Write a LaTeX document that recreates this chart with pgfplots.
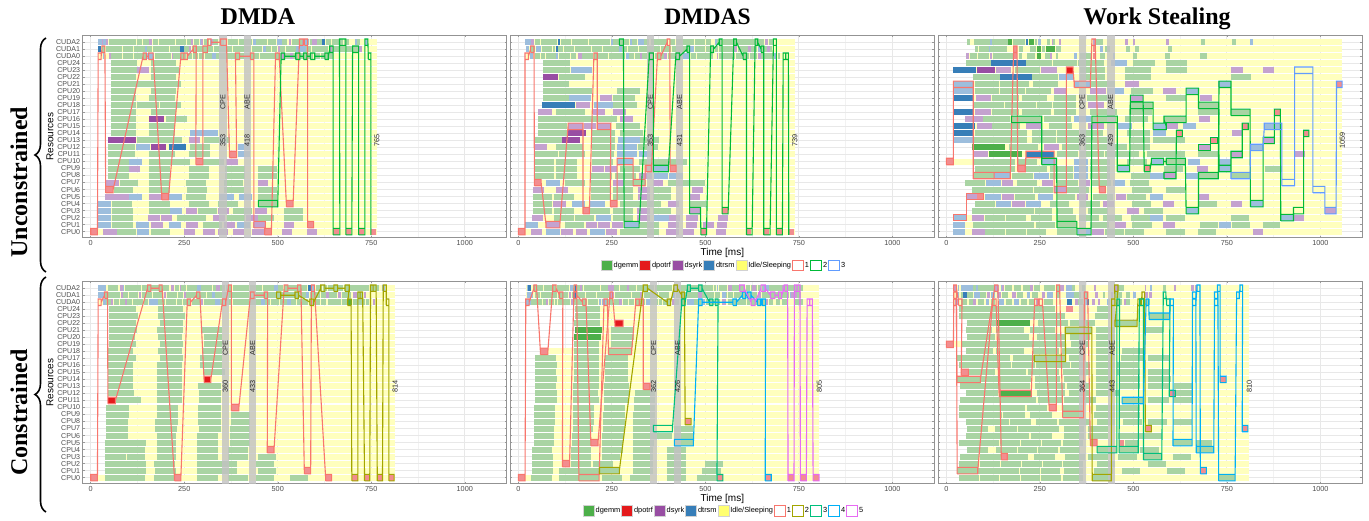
\documentclass[border=0pt]{standalone}
\usepackage{pgfplots}
\pgfplotsset{compat=1.18}
\usepackage{fontspec}
\setmainfont{Liberation Sans}
\newfontfamily\ttl{Liberation Serif}
\usetikzlibrary{decorations.pathreplacing}
\definecolor{cy}{HTML}{FFFFBE}
\definecolor{cg}{HTML}{A9D4A3}
\definecolor{cp}{HTML}{C4A2CF}
\definecolor{cb}{HTML}{9DBEDD}
\definecolor{cr}{HTML}{F28D8F}
\definecolor{cG}{HTML}{4DAF4A}
\definecolor{cP}{HTML}{984EA3}
\definecolor{cB}{HTML}{377EB8}
\definecolor{cR}{HTML}{E41A1C}
\definecolor{keyY}{HTML}{FFFF70}
\definecolor{one}{HTML}{F8766D}
\definecolor{twoA}{HTML}{00BA38}
\definecolor{thrA}{HTML}{619CFF}
\definecolor{twoB}{HTML}{A3A500}
\definecolor{thrB}{HTML}{00BF7D}
\definecolor{fouB}{HTML}{00B0F6}
\definecolor{fivB}{HTML}{E76BF3}
\makeatletter
\def\resetacc{\gdef\accy{}\gdef\accg{}\gdef\accb{}\gdef\accp{}\gdef\accr{}\gdef\accG{}\gdef\accB{}\gdef\accP{}\gdef\accR{}}
\resetacc
\def\pR#1#2/#3\relax{\expandafter\xdef\csname acc#1\endcsname{\csname acc#1\endcsname(#2,\rw)(#3,\rw)(nan,nan)}}
\newcommand\R[2]{\def\rw{#1}\foreach \t in {#2}{\expandafter\pR\t\relax}}
\newcommand\flush[1]{\expandafter\ifx\csname acc#1\endcsname\empty\let\tmp\relax\else
 \edef\tmp{\noexpand\addplot[forget plot,color=c#1,line width=6pt,line cap=butt] coordinates {\csname acc#1\endcsname};}\fi\tmp}
\newcommand\flushall{\flush{y}\flush{g}\flush{b}\flush{p}\flush{r}\flush{G}\flush{B}\flush{P}\flush{R}\resetacc}
\newcommand\pth[2]{\gdef\accq{}\gdef\accl{}\gdef\prv{}\foreach \a/\b/\c in {#2}{\pgfmathsetmacro\lo{\c-0.46}\pgfmathsetmacro\hi{\c+0.46}\xdef\accq{\accq(\a,\lo)(\b,\lo)(\b,\hi)(\a,\hi)(\a,\lo)(nan,nan)}\ifx\prv\empty\else\xdef\accl{\accl\prv(\a,\c)(nan,nan)}\fi\xdef\prv{(\b,\c)}}\edef\tmp{\noexpand\addplot[forget plot,color=#1,line width=1.1pt,line join=miter] coordinates {\accq\accl};}\tmp}
\newcommand\band[2]{\addplot[forget plot,draw=none,fill=gray!48,fill opacity=.82] coordinates {(#1,-0.9)(#2,-0.9)(#2,28)(#1,28)};}
\newcommand\lbl[3]{\node[rotate=90,font=\fontsize{7.3}{8}\selectfont,text=black!85] at (axis cs:#1,#2) {#3};}
\newcommand\lk[3]{\addlegendimage{legend image code/.code={\draw[draw=gray!35,line width=.7pt,fill=#1] (0pt,-5.2pt) rectangle (11pt,5.2pt);}}\addlegendentry{#3}}
\newcommand\lop[2]{\addlegendimage{legend image code/.code={\draw[draw=#1,line width=.9pt,fill=white] (0pt,-5.2pt) rectangle (11pt,5.2pt);}}\addlegendentry{#2}}
\makeatother
\pgfplotsset{unbounded coords=jump,
 gantt/.style={anchor=south west,width=424pt,height=202.8pt,scale only axis,
  xmin=-21.4,xmax=1112,ymin=-0.9,ymax=28,
  xtick={0,250,500,750,1000},minor xtick={125,375,625,875},
  ytick={0,...,27},clip=true,
  grid=both,major grid style={gray!18,line width=.9pt},minor grid style={gray!10,line width=.5pt},
  axis line style={gray!85,line width=1pt},
  major tick length=2pt,minor tick length=0pt,tick style={gray!80,line width=.5pt},
  xticklabel style={font=\fontsize{7.3}{8}\selectfont,text=black!70,yshift=1pt},
  /pgf/number format/assume math mode=true,/pgf/number format/set thousands separator={},
  yticklabels={},legend style={font=\fontsize{7.4}{8}\selectfont}},
 lefty/.style={yticklabels={CPU0,CPU1,CPU2,CPU3,CPU4,CPU5,CPU6,CPU7,CPU8,CPU9,CPU10,CPU11,CPU12,CPU13,CPU14,CPU15,CPU16,CPU17,CPU18,CPU19,CPU20,CPU21,CPU22,CPU23,CPU24,CUDA0,CUDA1,CUDA2},
  yticklabel style={font=\fontsize{7.1}{7}\selectfont,text=black!70,xshift=1pt},
  ylabel={Resources},ylabel style={font=\fontsize{7.6}{8}\selectfont},
  every axis y label/.style={at={(axis description cs:-0.077,0.5)},rotate=90,anchor=center}},
 midx/.style={xlabel={Time [ms]},xlabel style={font=\fontsize{8.2}{9}\selectfont},
  every axis x label/.style={at={(axis description cs:0.5,-0.0745)},anchor=center}},
 leg/.style={legend columns=-1,legend cell align=left,
  legend style={at={(axis description cs:#1)},anchor=center,draw=none,fill=none,inner sep=0pt,outer sep=0pt,
  nodes={inner xsep=1pt,inner ysep=1pt},
  /tikz/every even column/.append style={column sep=0pt}}}}
\begin{document}
\begin{tikzpicture}[x=1pt,y=1pt]
\path[use as bounding box] (0,0) rectangle (1369,521);
\node[anchor=base,font=\ttl\bfseries\fontsize{24}{24}\selectfont] at (258,496) {DMDA};
\node[anchor=base,font=\ttl\bfseries\fontsize{23.5}{24}\selectfont] at (707.5,496) {DMDAS};
\node[anchor=base,font=\ttl\bfseries\fontsize{24}{24}\selectfont] at (1157,496) {Work Stealing};
\node[rotate=90,anchor=base,font=\ttl\bfseries\fontsize{24}{24}\selectfont] at (27,339) {Unconstrained};
\node[rotate=90,anchor=base,font=\ttl\bfseries\fontsize{24}{24}\selectfont] at (27,108.5) {Constrained};
\draw[line width=1.6pt,decorate,decoration={brace,amplitude=11pt}] (46,249) -- (46,483);
\draw[line width=1.6pt,decorate,decoration={brace,amplitude=11pt}] (46,9) -- (46,244);
%% ---------- DMDA unconstrained
\begin{axis}[gantt,lefty,at={(82.7pt,283pt)}]
\R{27}{y20/765,b20/30,p30/33,b33/41,p41/45,g48/62,g63/77,g78/92,g93/107,g108/122,g123/138,g139/155,p155/165,g167/181,g182/196,g197/211,g212/226,g227/241,g242/256,g257/267,p267/274,g276/290,b291/296,p296/301,g303/317,b318/322,p322/326,g327/340,g342/356,g366/380,g381/395,g396/410,g411/432,b433/442,g443/457,g458/472,g473/495,b497/511,g512/526,p530/536,g539/553,g554/566,b566/584,g585/592,p592/605,g606/617,B619/627,g629/643,g644/658,g659/675,g676/691,b706/712,g713/721,b733/741}
\R{26}{y20/765,B20/28,g29/39,g40/54,g55/69,g70/84,g85/99,g100/114,g115/129,g130/144,b145/150,g151/165,g166/180,g181/195,g196/210,g211/225,g226/239,B240/249,g250/262,p262/268,g270/284,g285/297,g298/313,g314/328,g329/343,g344/364,g365/379,g380/394,g395/409,g410/429,g430/444,g445/459,b460/468,g469/483,g484/498,p500/505,g506/520,g521/535,g536/550,b550/575,g576/590,g591/605,g606/620,g621/635,p636/645,g646/660,g661/681,g682/696,g697/715,p716/724}
\R{25}{y20/765,b32/36,p48/53,g55/69,g70/84,g85/99,g100/114,g115/129,g130/148,b150/170,g171/185,g186/200,g201/215,p216/220,g221/235,g236/256,g258/272,g273/288,g290/304,g305/323,b325/335,g336/350,g351/375,g376/399,g400/414,g415/426,g427/436,g437/451,g452/466,g467/481,g482/508,p510/516,g519/533,p533/540,g541/555,g556/580,g581/595,g600/614,g615/634,g636/648}
\R{24}{y55/765,g55/123,g160/227}
\R{23}{y55/765,g55/124,p125/157,g160/235}
\R{22}{y55/765,g55/122,g160/227}
\R{21}{y55/765,g55/124,g125/182,g183/241}
\R{20}{y55/765,g55/122,g160/227}
\R{19}{y55/765,g55/121,g157/225}
\R{18}{y55/765,g55/122,g124/182,g184/241}
\R{17}{y55/765,g55/122,g162/228}
\R{16}{y55/765,g55/122,P157/197,g200/258}
\R{15}{y55/765,g55/122,g157/224}
\R{14}{y55/765,g55/122,g157/224,b266/341}
\R{13}{y45/765,P45/122,g124/245,p264/293,g304/373}
\R{12}{y45/765,g45/119,b121/159,P160/200,B208/256,g266/318,b395/427}
\R{11}{y45/765,g45/119,g157/224,g264/320,r371/390,b395/427}
\R{10}{y45/765,g45/102,b103/138,g157/265,r281/300,g301/355,p361/393}
\R{9}{y45/765,g45/102,p102/133,g157/211,g264/317,g360/413,g446/497}
\R{8}{y45/765,g45/102,g157/211,g264/317,g360/413,g446/497}
\R{7}{y40/765,p40/75,g77/127,g157/211,g256/307,g355/406,p446/475}
\R{6}{y40/765,r40/60,g61/114,g157/211,g258/310,g355/409,g446/497}
\R{5}{y37/765,p37/102,b103/138,p157/189,r190/208,b210/245,g256/307,b344/382,b397/432,g448/497}
\R{4}{y20/765,b20/55,g56/110,g157/211,g264/317,g341/393,g448/500,r523/541}
\R{3}{y20/765,b20/55,g56/112,g157/211,b213/245,p256/285,g287/338,p341/371,g381/432,p440/470,g518/567}
\R{2}{y20/765,b20/55,g56/112,p154/186,p189/218,g231/307,p328/360,g363/413,p416/446,g448/491,g518/567}
\R{1}{y20/765,b20/55,g56/112,b122/157,p160/192,b208/242,p256/288,g301/352,p355/387,b392/427,p435/467,p518/544,r580/596}
\R{0}{y0/765,r0/18,p34/69,g70/122,b123/157,g160/213,p250/280,p301/331,p339/368,p381/411,p432/464,r465/483,p512/539,p579/606,r649/663,r683/697,r717/731,r749/763}
\flushall
\band{344}{363}\band{409}{428}
\pth{one}{0/18/0,20/28/25,30/38/26,40/60/6,140/149/25,155/167/25,190/208/5,241/249/25,249/258/25,274/282/26,281/300/10,300/312/26,313/322/27,347/363/27,371/390/11,387/398/25,427/436/25,436/467/1,465/483/0,494/504/25,523/541/4,558/568/27,571/580/27,580/596/1}
\pth{twoA}{448/500/4,509/518/25,548/559/25,569/578/25,587/599/25,626/635/25,639/648/26,648/666/0,665/682/27,682/698/0,700/716/26,716/733/0,733/741/27,742/749/25,749/749/0}
\lbl{353}{18.5}{CPE}\lbl{418}{18.5}{ABE}\lbl{353}{13}{353}\lbl{418}{13}{418}\lbl{765}{13}{765}
\end{axis}
%% ---------- DMDAS unconstrained
\begin{axis}[gantt,midx,leg={0.503,-0.136},at={(510.3pt,283pt)}]
\lk{cG}{}{dgemm}\lk{cR}{}{dpotrf}\lk{cP}{}{dsyrk}\lk{cB}{}{dtrsm}\lk{keyY}{}{Idle/Sleeping\hspace{7pt}}\lop{one}{1}\lop{twoA}{2}\lop{thrA}{3}
\R{27}{y18/739,b18/35,p35/43,g45/59,g60/74,g75/89,g90/103,B105/112,g113/127,g128/142,g143/157,g158/172,g173/187,g188/205,g206/220,g221/245,b247/252,g253/270,g271/282,g283/297,b298/303,g304/318,b320/335,g336/350,g355/370,g372/386,g387/398,g406/420,g421/440,g441/455,g456/470,g471/485,g486/500,g501/515,b525/530,g531/537,g538/545,g546/560,g561/575,g576/584,g585/598,g599/613,g614/625,g626/641,g642/656,p660/668,g669/680}
\R{26}{y20/739,b20/28,g33/45,b48/60,g62/76,g77/91,g92/99,B100/105,g106/120,g121/135,g136/150,g151/165,g166/180,g181/195,g196/210,g211/225,g226/240,g241/255,g256/270,b270/276,g277/291,g292/306,g307/321,g322/336,g337/351,g352/365,g366/380,g381/395,g396/409,g410/424,g425/439,g440/459,b460/470,g471/485,g486/500,g501/524,g525/535,g536/545,g546/560,g561/575,p577/585,g586/600,g601/615,p615/622,g623/637,b640/648,g649/655,g656/665,p665/672,g673/677}
\R{25}{y20/739,b30/40,g45/59,g60/72,g75/89,g90/100,b102/107,g110/124,g125/139,g140/154,p160/170,g171/185,g186/200,g201/211,g212/226,g227/241,g242/256,g257/271,g272/286,b288/295,g296/310,g311/325,p326/330,g331/345,g346/364,g365/372,g373/389,p390/398,g399/410,g411/431,g432/440,b440/460,g462/476,g477/491,g492/506,g507/521,p530/535,g536/550,g551/565,g566/580,g581/595,g596/617,g618/639,p640/648,g650/664,g665/682,b683/690,g695/700}
\R{24}{y66/739,g66/139}
\R{23}{y66/739,g66/139,b140/198}
\R{22}{y66/739,P66/107,g109/179}
\R{21}{y66/739,g66/135}
\R{20}{y66/739,g66/136,g136/198,g264/324}
\R{19}{y66/739,g66/135,b136/193,p218/250,g252/313}
\R{18}{y63/739,B63/152,p154/192,b202/252,g252/318}
\R{17}{y53/739,p53/91,g101/179,p200/232,p253/288}
\R{16}{y53/739,g53/264,p272/307}
\R{15}{y53/739,g53/130,p133/173,p176/208,p210/247,g261/326}
\R{14}{y53/739,g53/130,P133/182,g197/258,g272/334}
\R{13}{y44/739,g44/116,P117/165,g198/258,b266/324,g325/377}
\R{12}{y44/739,p44/78,g101/173,g197/258,b264/318,g320/374}
\R{11}{y44/739,g44/107,g108/177,g197/256,b264/318,b323/357}
\R{10}{y44/739,g44/96,g100/158,g197/253,b264/307,g323/452}
\R{9}{y44/739,g44/96,g100/158,p197/229,p232/264,g272/326,r339/356,b360/401,r406/422}
\R{8}{y44/739,g44/96,g100/158,g194/250,g258/315,p323/357,b363/401,b403/440}
\R{7}{y43/739,r43/61,b74/111,g125/178,g194/246,p253/283,g285/342,p360/387,g400/499}
\R{6}{y39/739,p39/69,p101/133,g194/246,g253/307,p320/352,g360/408,p464/494}
\R{5}{y39/739,g39/90,g95/149,g194/246,g253/307,p320/352,g360/408,p459/486}
\R{4}{y39/739,g39/90,p93/127,b143/178,b192/232,r246/264,g272/381,p400/430,g459/504}
\R{3}{y39/739,g39/91,g95/149,r173/190,g192/245,g253/307,p317/352,g360/408,p458/487,r545/561}
\R{2}{y37/739,p37/66,g95/149,g152/202,b208/248,g253/307,p317/352,b363/403,p403/432,p448/480,p534/561}
\R{1}{y18/739,b18/53,p74/111,g125/176,p181/210,p213/245,p250/281,b283/323,g325/376,p400/430,p448/478,p494/523,p531/558}
\R{0}{y0/739,r0/18,p34/63,b74/111,p114/146,p154/184,b192/232,p234/264,g272/376,p395/430,p440/470,r488/503,p529/555,r610/622,r658/670,r692/706,r723/737}
\flushall
\band{344}{362}\band{422}{440}
\pth{one}{0/18/0,18/27/25,33/42/26,43/61/7,74/111/1,133/173/15,173/190/3,202/211/25,211/247/15,246/264/4,264/307/10,307/339/7,339/356/9,372/381/25,398/405/27,406/422/9}
\pth{twoA}{270/281/27,283/323/1,350/361/25,361/401/9,421/431/25,451/458/26,458/487/3,488/503/0,514/522/26,537/545/27,545/561/3,576/583/27,601/610/25,610/625/0,633/640/27,649/656/26,656/673/0,682/690/27,690/706/0,708/715/25,715/722/25,723/723/0}
\lbl{353}{18.5}{CPE}\lbl{431}{18.5}{ABE}\lbl{353}{13}{353}\lbl{431}{13}{431}\lbl{739}{13}{739}
\end{axis}
%% ---------- WS unconstrained
\begin{axis}[gantt,at={(938.3pt,283pt)}]
\R{27}{y56/1059,g56/64,g75/118,b118/123,g123/165,G165/176,g177/211,B214/219,G221/235,g236/243,b246/254,g270/278,p283/286,g286/291,p302/307,p393/398,g401/419,p478/485,p500/505,p588/594,g681/692,g764/775,b812/819}
\R{26}{y77/1059,g77/86,g88/113,b113/118,g118/162,r180/189,g193/204,g224/240,G243/254,g256/265,G267/291,g294/307,r391/398,b412/420,g425/438,g481/492,g505/516,g593/604}
\R{25}{y53/1059,p53/60,g64/83,g86/113,p118/122,g124/140,g142/177,r180/189,g195/202,g216/238,G243/254,g265/278,p278/282,g293/298,b342/349,g358/389,r391/398,g411/424,b446/452,g500/510,g585/598,g679/697}
\R{24}{y53/1059,g53/119,B120/214,g214/283,g286/350,g352/422,b441/484,g500/558,g588/644}
\R{23}{y19/1059,B19/80,P81/131,p132/174,g184/251,p254/297,R321/339,g358/425,g478/548,g588/644,p761/794,p847/877}
\R{22}{y72/1059,g72/143,B144/229,g230/299,b301/342,g358/425,g478/548,g761/815}
\R{21}{y19/1059,b19/72,g77/142,g144/222,g232/299,b342/385,g387/451,p478/516,b727/760,r1043/1058}
\R{20}{y19/1059,b19/72,g76/142,g144/211,g214/280,p289/323,p385/427,b430/476,g494/553,p580/614,b641/674}
\R{19}{y20/1059,B20/75,p80/120,g122/195,g203/270,g289/347,g377/441,p492/526,g588/641,p679/711}
\R{18}{y75/1059,g75/155,g156/240,g243/283,g286/347,p379/422,g492/553,g674/728}
\R{17}{y20/1059,B20/75,p77/120,g122/195,g203/280,g289/347,g385/457,g489/550,g674/732,g761/812,r877/893}
\R{16}{y51/1059,p51/99,g99/171,g174/255,g262/334,b342/387,g389/454,g478/540,g582/641,p676/706}
\R{15}{y20/1059,B20/77,p83/123,g123/198,p214/254,g275/337,p379/422,b457/497,b553/588,p590/620,b633/668,r791/807,b850/897}
\R{14}{y20/1059,B20/75,g77/150,g150/216,g230/294,g296/355,g358/419,g483/545,b553/588,r615/631,p764/791,r955/969}
\R{13}{y19/1059,b19/72,g75/150,g150/216,g230/294,g296/355,g358/438,g489/545,g553/638,r706/724,p847/877}
\R{12}{y69/1059,G69/158,g168/246,p262/302,g310/361,g369/433,g433/484,g492/545,p674/706,b813/847}
\R{11}{y73/1059,p73/112,G115/203,B213/288,g296/353,g358/422,g425/516,g537/638,g674/725,p761/791,p931/958}
\R{10}{y0/1059,r0/19,g73/184,g188/243,b255/295,b342/379,g385/438,g483/537,b548/581,g588/639,b646/679,b729/761}
\R{9}{y77/1059,g77/184,r191/211,g214/270,g277/339,b342/379,g385/438,b457/490,r529/545,g582/633,p671/700,b729/761,g851/898}
\R{8}{y75/1059,g75/128,b128/171,g176/232,b235/275,g277/339,b342/379,g385/438,g494/545,b545/582,p582/614,b641/674,g674/727,g761/812}
\R{7}{y51/1059,g51/104,b105/147,p148/179,g190/243,p256/286,g296/353,p355/385,g387/441,b446/478,g492/542}
\R{6}{y69/1059,g69/128,g128/184,g184/232,g235/286,p288/321,g323/382,r409/425,g497/550,g588/638}
\R{5}{y53/1059,p53/83,r83/99,b104/147,p150/182,g184/238,b246/286,g296/345,p350/379,g393/446,p454/481,g484/535,b545/580,p676/703}
\R{4}{y77/1059,g77/131,b134/174,p176/211,b214/254,g277/329,g358/411,p419/449,g497/548,p580/609,g676/724,p761/791,b813/847}
\R{3}{y69/1059,g69/125,g125/179,g179/235,g236/283,g296/339,g379/433,p483/516,g529/580,b641/674,p1012/1042}
\R{2}{y19/1059,b19/53,p69/102,g104/158,g160/214,g227/283,g296/347,g355/409,g419/470,g494/545,b545/580,g588/638,g761/809,b894/928,p928/955}
\R{1}{y19/1059,b19/51,g72/128,g128/184,g184/235,g240/291,g296/349,g385/435,p451/481,g497/550,p580/612,g679/727,b729/761,g764/812,g847/892}
\R{0}{y19/1059,b19/51,p69/104,g104/158,g160/214,g216/267,g296/347,b348/387,p390/422,g425/475,g478/529,g588/638,g673/721,p820/847}
\flushall
\band{355}{374}\band{430}{450}
\pth{one}{0/19/10,19/72/21,72/128/8,128/171/8,180/189/26,191/211/9,213/288/11,288/321/6,321/339/23,342/385/21,389/398/27,409/425/6}
\pth{one}{19/53/2,53/99/5}
\pth{twoA}{174/255/16,255/295/10,296/349/1,349/387/0,389/457/16,457/490/9,492/526/19,529/545/9,548/581/10,588/639/10,641/674/3,674/727/8,729/761/21,761/812/17,813/847/4,847/877/13,877/893/17,894/928/2,928/955/3,955/969/14}
\pth{twoA}{492/553/18,553/588/15,582/641/16,641/674/20,674/728/18,729/761/9,761/791/11,791/807/15}
\pth{twoA}{582/614/8,615/631/14}
\pth{twoA}{674/706/12,706/724/13}
\pth{thrA}{761/812/8,813/847/12,850/897/15,897/931/7,931/980/23,980/1012/6,1012/1042/3,1043/1058/21}
\lbl{363}{18.5}{CPE}\lbl{439}{18.5}{ABE}\lbl{363}{13}{363}\lbl{439}{13}{439}\lbl{1059}{13}{1059}
\end{axis}
%% ---------- DMDA constrained
\begin{axis}[gantt,lefty,at={(82.7pt,37pt)}]
\R{27}{y20/814,b20/40,g45/59,g60/74,p78/85,b85/90,g92/105,g106/120,g121/135,g136/150,g151/164,g165/180,g181/195,g196/210,p214/222,g224/235,p238/240,g242/256,g257/270,g271/284,b285/295,g296/310,g311/325,g326/334,p335/345,g346/360,g361/379,g380/394,g395/409,g410/424,g425/444,g445/459,g460/474,g475/489,b490/500,g501/515,g516/529,g530/545,g546/562,g563/579,B580/588,b590/600,g601/619,g620/632,g633/647,g648/660,g661/675,g676/691,g692/700,g700/725,g726/745,g750/770,b778/788}
\R{26}{y20/814,b20/35,g36/49,g50/64,g65/79,p80/86,g87/101,g102/116,g117/127,p128/135,g136/150,g151/165,g166/180,g181/194,p195/202,g203/217,g218/232,g233/247,p250/255,g256/270,g271/282,g283/294,g295/309,g310/324,b325/332,g333/347,g348/361,g362/380,g381/394,g395/409,g410/424,g425/437,g438/452,g453/474,g475/490,g491/509,g510/530,g531/545,g546/559,g560/575,b576/584,g585/599,g600/614,g615/629,p630/636,g637/659,p660/670,g671/679,g680/695,p700/712,g713/729,p730/735}
\R{25}{y20/814,b32/40,g41/54,p55/60,g62/76,g77/91,p92/96,g97/111,g112/126,g127/141,g142/154,b155/180,g181/184,g185/199,g200/214,g215/229,g230/245,g246/257,g258/269,g270/284,g285/294,p295/300,g302/316,g317/331,b332/345,g346/364,g365/379,g380/394,g395/409,g410/424,g425/439,g440/454,b455/465,g466/480,g481/504,g505/519,g520/524,b525/535,g536/550,g551/565,g566/582,g583/599,g600/614,g615/629,g635/650,g651/670,g671/687,G688/698,g700/714,g715/734,g735/745,p755/760}
\R{24}{y50/814,g50/120,g181/248}
\R{23}{y50/814,g50/126,g181/253}
\R{22}{y50/814,g50/120,g184/248}
\R{21}{y50/814,g50/124,g178/248,g298/352}
\R{20}{y50/814,g50/119,g181/245,g304/352}
\R{19}{y50/814,g50/120,g184/247,g304/352}
\R{18}{y45/814,g45/114,g181/243,g301/352}
\R{17}{y45/814,g45/120,g184/246,g293/352}
\R{16}{y45/814,g45/112,g178/243,g293/352}
\R{15}{y45/814,g45/112,g176/243,g301/360}
\R{14}{y45/814,g45/112,g176/243,R303/321}
\R{13}{y45/814,g45/112,g176/243,g288/347}
\R{12}{y45/814,g45/115,g176/243,g290/347}
\R{11}{y46/814,R46/66,g66/135,g176/243,g290/347}
\R{10}{y42/814,g42/102,g176/233,g288/347,r376/396}
\R{9}{y42/814,g42/102,g176/234,g288/347,g376/427}
\R{8}{y42/814,g42/99,g173/233,g288/347,g376/427}
\R{7}{y42/814,g42/99,g173/230,g290/347,g373/427}
\R{6}{y42/814,g42/99,g176/229,g285/341,g373/427}
\R{5}{y37/814,g37/94,g95/147,g176/229,g285/341,g373/427}
\R{4}{y37/814,g37/94,g95/144,g176/229,g285/341,g368/420,r472/490}
\R{3}{y39/814,g39/95,g97/146,g176/229,g285/341,g368/420,g448/496}
\R{2}{y37/814,g37/94,g95/147,g170/224,g285/341,g341/392,g443/491}
\R{1}{y37/814,g37/94,g95/147,g173/229,g285/341,g341/392,g446/495,r571/588}
\R{0}{y0/814,r0/18,g39/94,g95/144,g170/224,r224/241,g285/341,g368/420,g443/491,g534/582,r628/644,r698/714,r732/746,r766/780,r797/811}
\flushall
\band{352}{370}\band{424}{442}
\pth{one}{0/18/0,20/28/25,37/45/26,46/66/11,152/161/27,183/191/27,224/241/0,258/267/25,283/292/26,303/321/14,352/361/25,368/376/27,376/396/10,427/437/26,464/473/26,472/490/4,517/527/27,553/562/27,571/588/1,590/598/27,628/644/0}
\pth{twoB}{497/508/26,546/555/26,586/596/25,615/626/27,650/660/27,680/691/27,687/696/25,698/714/0,714/720/26,720/727/26,732/746/0,748/755/27,755/763/27,766/780/0,782/790/27,790/797/25,797/811/0}
\lbl{360}{18.5}{CPE}\lbl{433}{18.5}{ABE}\lbl{360}{13}{360}\lbl{433}{13}{433}\lbl{814}{13}{814}
\end{axis}
%% ---------- DMDAS constrained
\begin{axis}[gantt,midx,leg={0.503,-0.132},at={(510.3pt,37pt)}]
\lk{cG}{}{dgemm}\lk{cR}{}{dpotrf}\lk{cP}{}{dsyrk}\lk{cB}{}{dtrsm}\lk{keyY}{}{Idle/Sleeping\hspace{7pt}}\lop{one}{1}\lop{twoB}{2}\lop{thrB}{3}\lop{fouB}{4}\lop{fivB}{5}
\R{27}{y20/805,b22/35,B27/34,g38/52,g53/67,g68/74,g75/89,g90/102,g103/117,g118/136,b137/145,g146/159,g160/174,B152/155,p165/170,g175/189,g190/204,g205/219,g220/240,p240/255,g256/270,g271/285,g286/300,g301/315,p290/295,g316/330,g331/349,g350/364,g365/379,g380/395,g396/412,g413/429,g430/445,g446/459,g460/474,g475/491,g492/506,g507/521,g522/529,b530/535,g536/539,g540/554,g555/559,p560/570,g572/586,g587/607,g608/620,g621/624,p625/635,g636/639,g640/650,g651/654,b655/670,g671/689,g690/705,p705/712,g713/739,g740/760}
\R{26}{y20/805,b22/40,g45/59,g60/74,g75/89,g90/104,g105/119,g120/134,B147/156,p135/142,g143/146,g158/172,g173/179,g180/194,g195/209,g210/224,g225/239,g240/244,p245/255,g258/272,g273/287,g288/302,g303/317,g318/324,p325/333,g335/349,g350/374,g375/389,g390/404,b410/420,g421/444,g445/459,g460/474,g475/479,p480/490,g491/494,g495/509,g510/524,g525/540,b545/555,g556/559,g560/575,g576/584,g585/597,g598/618,g619/639,p640/650,g651/659,g660/672,g673/689,g690/705,g706/724,b725/730,p730/745,g745/755}
\R{25}{y20/805,b20/33,g35/49,g50/64,g65/74,p75/80,g82/96,g97/104,g105/119,g120/124,g125/139,p140/146,g147/156,g157/170,g171/184,g185/199,g200/214,b215/222,g223/237,g240/254,b225/235,g255/269,p270/278,g280/294,g295/310,g311/324,g325/330,g331/339,b340/355,g356/374,g375/385,g386/394,g395/400,g401/409,p410/420,g415/430,g431/449,b450/470,g470/480,g481/489,b490/500,g501/524,g525/540,p545/555,g560/575,g576/589,g590/600,g601/609,g610/620,g621/629,g630/640,g641/659,p660/668,g670/680,g690/700,g705/720,g740/760}
\R{24}{y152/805,g152/218}
\R{23}{y152/805,g152/218}
\R{22}{y149/805,g149/218,R258/280}
\R{21}{y152/805,G152/224,g248/307}
\R{20}{y149/805,G149/221,g248/310}
\R{19}{y149/805,g149/216,g248/307}
\R{18}{y59/805,r59/79,g149/216,g241/303}
\R{17}{y45/805,g45/101,g149/216,g232/293}
\R{16}{y45/805,g45/103,g149/216,g232/293}
\R{15}{y45/805,g45/101,g149/216,g232/293}
\R{14}{y45/805,g45/103,g149/216,g232/293}
\R{13}{y45/805,g45/101,g146/216,g229/296,r334/352}
\R{12}{y45/805,g45/103,g146/212,g229/296,g312/365}
\R{11}{y45/805,g45/103,g146/217,g229/293,g309/365}
\R{10}{y42/805,g42/98,g146/202,g229/285,g309/365}
\R{9}{y42/805,g42/98,g146/202,g227/285,g307/365}
\R{8}{y42/805,g42/98,g146/202,g227/285,g307/365,r446/462}
\R{7}{y42/805,g42/95,g146/200,g227/285,g307/362,g415/468}
\R{6}{y42/805,g42/95,g143/194,g224/283,g307/411,g415/468}
\R{5}{y42/805,g42/95,g143/194,r194/213,g224/280,g307/362,g417/468}
\R{4}{y37/805,g37/90,g141/194,g224/280,g307/360,g397/448}
\R{3}{y37/805,g37/93,g141/194,g224/272,g307/360,g397/448}
\R{2}{y37/805,g37/93,r118/137,g141/194,g200/253,g307/360,g397/448,g499/547}
\R{1}{y37/805,g37/93,g109/216,g217/270,g307/360,g397/448,g491/542}
\R{0}{y0/805,r0/18,g34/90,g109/162,g162/216,g224/278,g299/352,g397/448,g478/528,r531/547,r660/676,r721/737,r754/770,r788/804}
\flushall
\band{353}{372}\band{416}{436}
\pth{one}{0/18/0,20/29/25,42/49/27,59/79/18,92/101/27,110/119/26,118/137/2,149/156/27,162/216/0,229/238/25,241/303/18,314/323/25,325/334/25,334/352/13}
\pth{one}{149/156/26,172/181/25,194/213/5,245/252/26,258/280/22}
\pth{twoB}{217/270/1,334/345/27,398/407/25,416/425/27,437/444/26,446/462/8}
\pth{thrB}{361/412/7,437/446/25,452/460/27,482/491/27,511/520/25,526/534/25,531/547/0}
\pth{fouB}{417/468/5,482/491/25,574/583/25,599/608/26,613/622/26,639/648/25,652/661/25,660/676/0}
\pth{fivB}{592/604/27,622/633/25,649/660/27,674/686/26,695/704/26,711/720/27,721/737/0,738/745/27,745/753/27,754/770/0,772/779/25,779/786/25,788/804/0}
\lbl{362}{18.5}{CPE}\lbl{426}{18.5}{ABE}\lbl{362}{13}{362}\lbl{426}{13}{426}\lbl{805}{13}{805}
\end{axis}
%% ---------- WS constrained
\begin{axis}[gantt,at={(938.3pt,37pt)}]
\R{27}{y20/810,p20/28,b30/35,b40/70,g70/82,b80/85,g85/95,g96/128,p130/140,b145/150,p150/155,g157/175,g180/200,g205/230,p225/232,g235/250,g260/290,g293/300,p305/315,b320/335,g335/345,g362/370,p395/400,p452/458,g460/475,p530/535,b545/550,g580/587,p608/615,p655/662,p665/670}
\R{26}{y20/810,b25/35,g40/50,B45/56,g56/70,b75/90,g90/105,p110/118,b120/130,p135/145,g150/165,p175/185,g190/205,b215/225,g230/245,p255/265,b270/285,g295/305,b320/340,g340/360,g365/375,p398/405,g418/425,p440/445,g450/470,g480/490,b500/507,p530/538,p543/550}
\R{25}{y20/810,p22/35,g40/55,g60/75,p70/80,g85/100,b105/115,g120/130,b140/155,g160/175,b180/195,g200/215,g220/235,p240/250,g260/285,B323/335,p345/352,g352/365,b372/380,B375/382,p390/398,p405/410,b430/437,p455/460,g460/470,p475/480,g480/490,G515/522,g530/545}
\R{24}{y35/810,g35/291,r319/339,g403/438}
\R{23}{y35/810,g35/100,g100/318,g398/438,g542/597}
\R{22}{y56/810,g56/136,G136/224,g246/326,g331/398,g451/510}
\R{21}{y53/810,g53/122,g134/208,g224/291,g318/389,g400/451,g532/580}
\R{20}{y56/810,g56/131,g136/222,g243/318,g331/385,g400/451}
\R{19}{y0/810,r0/19,g43/193,g193/318,g334/382,g400/451}
\R{18}{y53/810,g53/125,g134/208,g232/302,g310/358,g400/451,g470/526}
\R{17}{y28/810,g28/90,g90/171,g179/235,g235/319,g327/371,g400/451,g467/526,g540/596}
\R{16}{y35/810,g35/174,g176/238,g240/331,g334/385,g400/451,g457/513}
\R{15}{y40/810,r40/59,g59/131,g139/214,g219/302,g313/385,g400/451,g457/518,g540/596}
\R{14}{y28/810,g28/91,g93/164,g164/227,g238/305,g315/358,g400/451,g465/518,g540/600,r732/748}
\R{13}{y37/810,g37/139,g139/225,g238/318,g323/385,g400/451,g465/518,g540/596,g609/657}
\R{12}{y53/810,g53/139,G141/227,g243/318,g327/385,g400/465,r596/612,g609/657}
\R{11}{y37/810,g37/174,g174/240,g246/312,g315/401,g470/527,g540/596,g606/657}
\R{10}{y35/810,g35/91,g91/153,g153/211,g216/270,r275/294,g311/367,g400/451,g462/518}
\R{9}{y35/810,g35/91,g91/150,g152/211,g224/282,g311/367,g395/451,g462/518}
\R{8}{y53/810,g53/168,g171/227,g240/297,g302/385,g403/451,g473/524,g540/590,g606/657}
\R{7}{y56/810,g56/112,g131/188,g192/302,g315/368,g379/432,r532/548,r791/806}
\R{6}{y53/810,g53/104,g104/163,g163/220,g227/283,g315/368,g379/432,g460/527,g527/577}
\R{5}{y35/810,g35/142,g144/197,g200/253,g256/307,g313/366,r385/403,r462/476,g478/516,g606/657,g668/710}
\R{4}{y56/810,g56/112,g133/190,g192/243,g245/298,g305/358,g403/456,g462/513,g518/568,g668/715}
\R{3}{y37/810,g37/88,g91/145,r147/163,g166/219,g235/291,g318/371,g379/433,g460/510,g527/576,g606/655}
\R{2}{y35/810,g35/88,g91/144,g146/200,g203/256,g259/310,g313/366,g403/451,g540/588}
\R{1}{y29/810,g29/84,g86/195,g198/251,g254/305,g315/366,g395/446,g470/518,g590/638,r679/695}
\R{0}{y35/810,g35/88,g91/142,g144/197,g200/251,g254/307,g313/366,g390/441,g728/772}
\flushall
\band{355}{374}\band{432}{451}
\pth{one}{0/19/19,20/27/25,28/91/14,129/138/27,147/163/3}
\pth{one}{20/27/26,29/84/1,124/133/25,141/227/12,236/245/25,248/257/25,275/294/10,295/303/27,311/367/9,369/378/26,385/403/5}
\pth{one}{20/27/27,33/42/25,40/59/15}
\pth{twoB}{235/319/17,318/389/21,390/441/0,442/451/25,450/459/27,451/510/22,512/521/25,523/530/26,532/548/7}
\pth{thrB}{403/456/4,456/463/25,462/513/4,516/527/25,527/576/3,580/587/26,589/598/25,596/612/12}
\pth{fouB}{470/527/11,534/541/25,542/597/23,598/607/25,606/657/5,658/667/25,670/678/27,679/695/1}
\pth{fouB}{658/667/26,668/715/4,717/726/25,725/732/27,732/748/14}
\pth{fouB}{717/726/26,728/772/0,776/783/26,785/792/27,791/806/7}
\lbl{364}{18.5}{CPE}\lbl{443}{18.5}{ABE}\lbl{364}{13}{364}\lbl{443}{13}{443}\lbl{810}{13}{810}
\end{axis}
\end{tikzpicture}
\end{document}
